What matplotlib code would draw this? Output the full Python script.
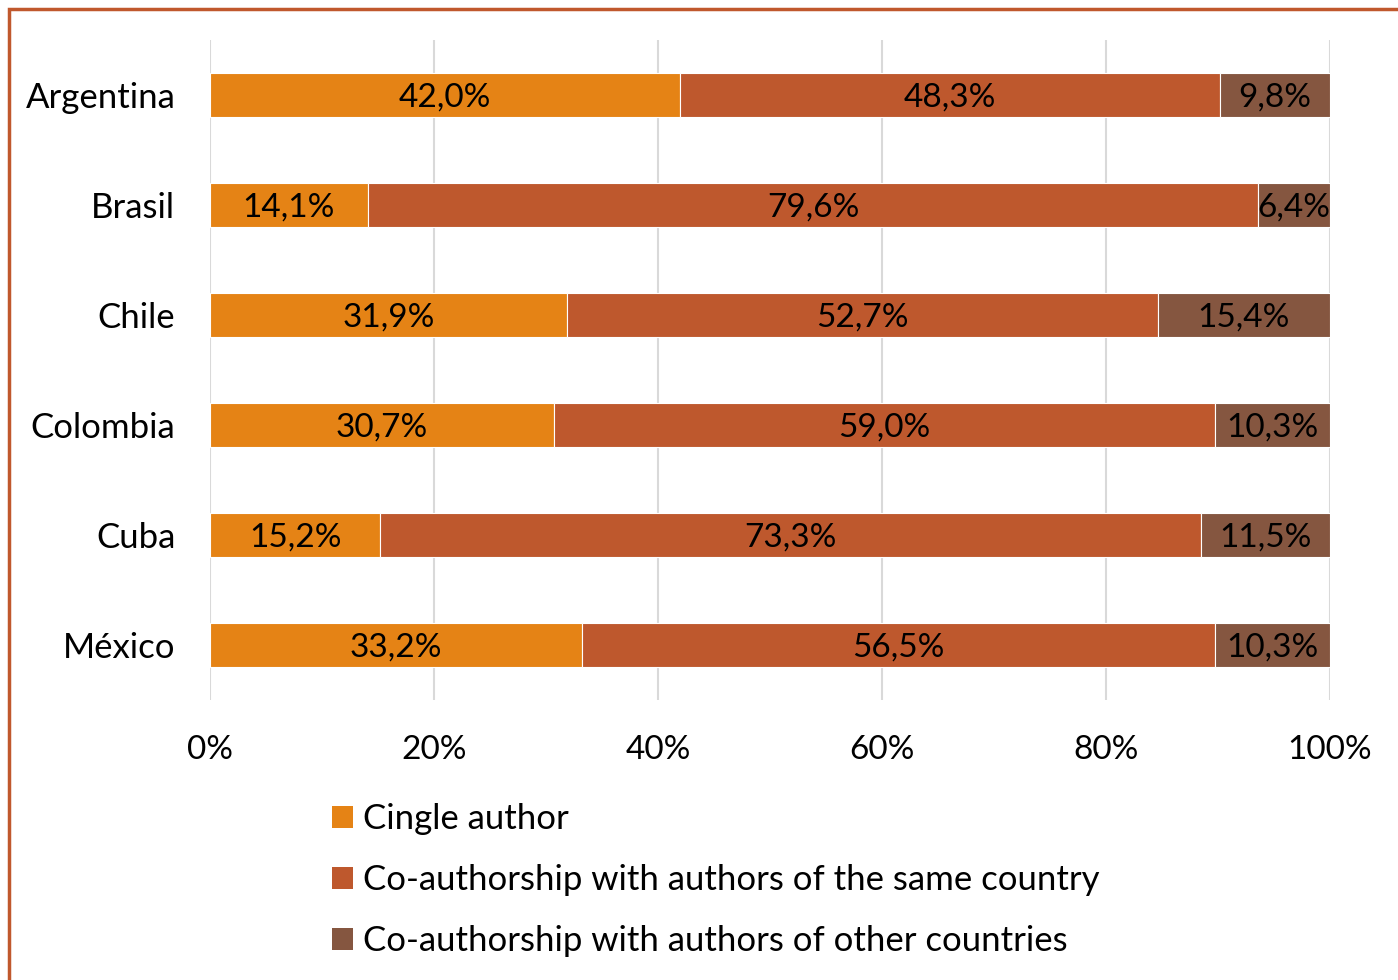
import matplotlib.pyplot as plt
from matplotlib.patches import Rectangle, Patch
import numpy as np

plt.rcParams['font.family'] = ['Lato', 'DejaVu Sans']

# Data
countries = ["Argentina", "Brasil", "Chile", "Colombia", "Cuba", "México"]
single = [42.0, 14.1, 31.9, 30.7, 15.2, 33.2]
same_country = [48.3, 79.6, 52.7, 59.0, 73.3, 56.5]
other_countries = [9.8, 6.4, 15.4, 10.3, 11.5, 10.3]
series_names = ["Cingle author",
                "Co-authorship with authors of the same country",
                "Co-authorship with authors of other countries"]
colors = ["#E58315", "#BE582D", "#855640"]
ticks = [0, 20, 40, 60, 80, 100]

data = np.array([single, same_country, other_countries])
shares = data / data.sum(axis=0) * 100  # 100% stacked

fig = plt.figure(figsize=(13.98, 9.8), dpi=100)
ax = fig.add_axes([210 / 1398, 1 - 700 / 980, 1120 / 1398, 660 / 980])

y = np.arange(len(countries))
left = np.zeros(len(countries))
for i in range(3):
    bars = ax.barh(y, shares[i], left=left, height=0.4, color=colors[i],
                   edgecolor="white", linewidth=0.8, label=series_names[i], zorder=3)
    labels = [f"{v:.1f}%".replace(".", ",") for v in data[i]]
    texts = ax.bar_label(bars, labels=labels, label_type="center", fontsize=24, color="black")
    for t in texts:
        t.xyann = (0, -2)
    left += shares[i]

ax.set_xlim(0, 100)
ax.set_ylim(len(countries) - 0.5, -0.5)
ax.set_yticks(y)
ax.set_yticklabels(countries, fontsize=25)
ax.set_xticks(ticks)
ax.set_xticklabels([f"{t}%" for t in ticks], fontsize=24)
ax.tick_params(axis="both", length=0)
ax.tick_params(axis="x", pad=25)
ax.tick_params(axis="y", pad=25)
ax.grid(axis="x", color="#D9D9D9", linewidth=1.5, zorder=0)
for s in ax.spines.values():
    s.set_visible(False)

handles = [Patch(facecolor=c) for c in colors]
fig.legend(handles, series_names, loc="upper left", bbox_to_anchor=(332 / 1398, 1 - 803 / 980),
           frameon=False, fontsize=25, handlelength=0.6, handleheight=0.6,
           handletextpad=0.3, labelspacing=0.84, borderpad=0, borderaxespad=0)

# outer border (left and top visible)
fig.patches.append(Rectangle((9 / 1398, -0.1), 1.2, 1 - 9 / 980 + 0.1, transform=fig.transFigure,
                             fill=False, edgecolor="#C0582D", linewidth=2.5))

plt.savefig("out.png")
